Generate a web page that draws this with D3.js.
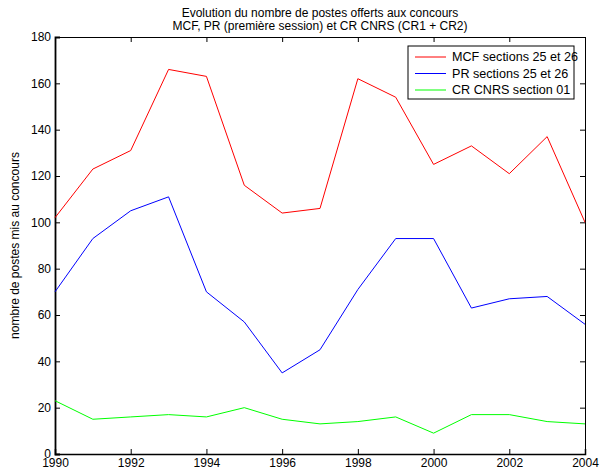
<!DOCTYPE html>
<html>
<head>
<meta charset="utf-8">
<script src="https://cdn.jsdelivr.net/npm/d3@7"></script>
<style>
  body { margin: 0; background: #fff; }
  text { font-family: "Liberation Sans", Arial, sans-serif; fill: #000; }
</style>
</head>
<body>
<div id="chart"></div>
<script>
const years = [1990, 1991, 1992, 1993, 1994, 1995, 1996, 1997, 1998, 1999, 2000, 2001, 2002, 2003, 2004];
const mcf = [102, 123, 131, 166, 163, 116, 104, 106, 162, 154, 125, 133, 121, 137, 100];
const pr = [70, 93, 105, 111, 70, 57, 35, 45, 71, 93, 93, 63, 67, 68, 56];
const crCnrs = [23, 15, 16, 17, 16, 20, 15, 13, 14, 16, 9, 17, 17, 14, 13];
const seriesNames = ["MCF sections 25 et 26", "PR sections 25 et 26", "CR CNRS section 01"];
const seriesColors = ["#ff0000", "#0000ff", "#00ff00"];
const xTicks = [1990, 1992, 1994, 1996, 1998, 2000, 2002, 2004];
const yTicks = [0, 20, 40, 60, 80, 100, 120, 140, 160, 180];

const W = 600, H = 472;
const margin = {top: 37, right: 15, bottom: 18, left: 55};
const width = W - margin.left - margin.right;
const height = H - margin.top - margin.bottom;

const svg = d3.select("#chart").append("svg")
    .attr("width", W)
    .attr("height", H);

const chart = svg.append("g")
    .attr("transform", `translate(${margin.left},${margin.top})`);

const x = d3.scaleLinear().domain([1990, 2004]).range([0, width]);
const y = d3.scaleLinear().domain([0, 180]).range([height, 0]);

// Top and right box sides, thin, ticks pointing inward
const tickLen = 5;
chart.append("g")
    .call(d3.axisTop(x).tickValues(xTicks).tickSize(-tickLen).tickFormat(""));
chart.append("g")
    .attr("transform", `translate(${width},0)`)
    .call(d3.axisRight(y).tickValues(yTicks).tickSize(-tickLen).tickFormat(""));

// Bottom and left axes, a bit heavier, with labels
const xAxis = chart.append("g")
    .attr("transform", `translate(0,${height})`)
    .call(d3.axisBottom(x).tickValues(xTicks).tickFormat(d3.format("d")).tickSize(-tickLen).tickPadding(3));
xAxis.selectAll("text").style("font-size", "12px").attr("y", 4).attr("dy", "0.75em");
xAxis.select(".domain").attr("stroke-width", 1.5);

const yAxis = chart.append("g")
    .call(d3.axisLeft(y).tickValues(yTicks).tickSize(-tickLen).tickPadding(4));
yAxis.selectAll("text").style("font-size", "12px");
yAxis.select(".domain").attr("stroke-width", 1.8);

chart.selectAll(".domain").attr("stroke", "#000");
chart.selectAll(".tick line").attr("stroke", "#000");

// Lines
const allSeries = [mcf, pr, crCnrs];
const line = d3.line()
    .x((d, i) => x(years[i]))
    .y(d => y(d));

chart.selectAll("path.series")
  .data(allSeries)
  .join("path")
    .attr("class", "series")
    .attr("d", d => line(d))
    .attr("fill", "none")
    .attr("stroke", (d, i) => seriesColors[i])
    .attr("stroke-width", 1);

// Title
svg.append("text")
    .attr("x", margin.left + width / 2)
    .attr("y", 17)
    .style("text-anchor", "middle")
    .style("font-size", "12px")
    .text("Evolution du nombre de postes offerts aux concours");
svg.append("text")
    .attr("x", margin.left + width / 2)
    .attr("y", 30)
    .style("text-anchor", "middle")
    .style("font-size", "12px")
    .text("MCF, PR (première session) et CR CNRS (CR1 + CR2)");

// Y label
svg.append("text")
    .attr("transform", `translate(19,${margin.top + height / 2}) rotate(-90)`)
    .style("text-anchor", "middle")
    .style("font-size", "12px")
    .text("nombre de postes mis au concours");

// Legend
const legend = svg.append("g").attr("transform", "translate(408,46)");
legend.append("rect")
    .attr("width", 166)
    .attr("height", 53)
    .attr("fill", "#fff")
    .attr("stroke", "#000")
    .attr("stroke-width", 1);
seriesNames.forEach((name, i) => {
    const cy = 11 + i * 16.5;
    legend.append("line")
        .attr("x1", 7).attr("x2", 38)
        .attr("y1", cy).attr("y2", cy)
        .attr("stroke", seriesColors[i]);
    legend.append("text")
        .attr("x", 44)
        .attr("y", cy)
        .attr("dy", "0.35em")
        .style("font-size", "12.6px")
        .text(name);
});
</script>
</body>
</html>
